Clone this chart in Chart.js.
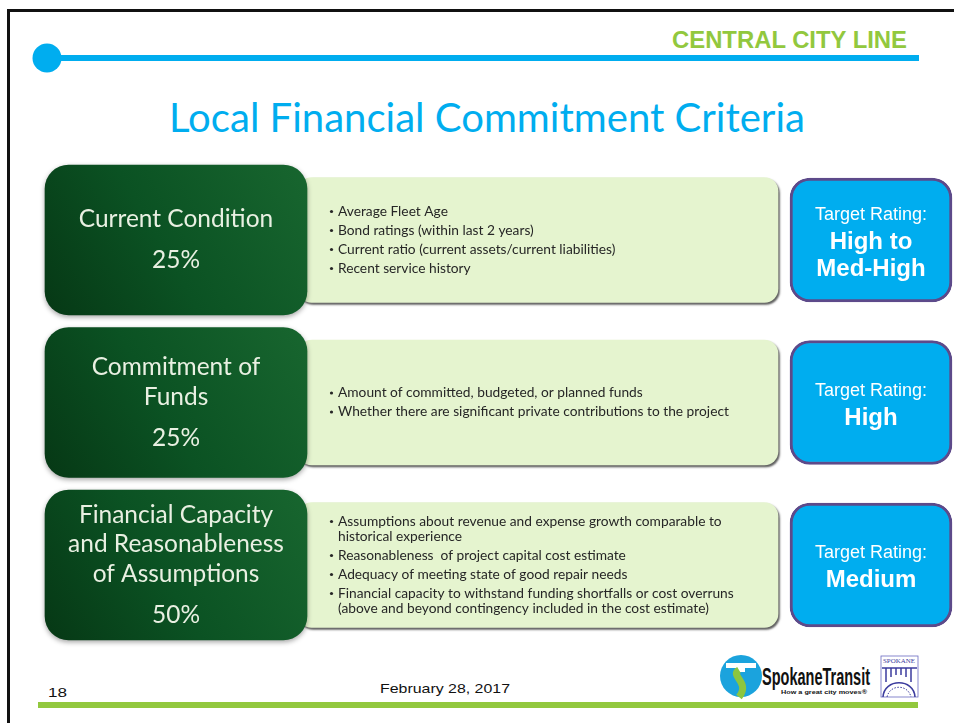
<!DOCTYPE html>
<html>
<head>
<meta charset="utf-8">
<script src="https://cdn.jsdelivr.net/npm/chart.js@4"></script>
<style>
html,body{margin:0;padding:0;background:#fff;}
#slide{position:relative;width:954px;height:723px;overflow:hidden;background:#fff;}
#slide svg,#slide canvas{position:absolute;left:0;top:0;}
</style>
</head>
<body>
<div id="slide">
<svg width="954" height="723" xmlns="http://www.w3.org/2000/svg">
  <path d="M8.5 723 V10.5 H954" fill="none" stroke="#111" stroke-width="3"/>
  <line x1="47" y1="58" x2="919" y2="58" stroke="#00adef" stroke-width="6"/>
  <circle cx="47" cy="58" r="14.5" fill="#00adef"/>
  <text x="672" y="48" font-family="Liberation Sans, Arial, sans-serif" font-weight="bold" font-size="24" fill="#92c83e" textLength="235" lengthAdjust="spacingAndGlyphs">CENTRAL CITY LINE</text>
  <text x="169" y="132" font-family="Lato, sans-serif" font-size="40" fill="#00adef" textLength="636" lengthAdjust="spacingAndGlyphs">Local Financial Commitment Criteria</text>
  <text x="48" y="697" font-family="Liberation Sans, Arial, sans-serif" font-size="13" fill="#111" textLength="19" lengthAdjust="spacingAndGlyphs">18</text>
  <text x="380" y="693" font-family="Liberation Sans, Arial, sans-serif" font-size="13" fill="#111" textLength="130" lengthAdjust="spacingAndGlyphs">February 28, 2017</text>
  <rect x="38" y="702" width="880" height="6" fill="#92c83e"/>
  <!-- Spokane Transit logo -->
  <circle cx="741" cy="676" r="21" fill="#1ba3dd"/>
  <path d="M726 663 H756 V668 H745 V672 H737 V668 H726 Z" fill="#fff"/>
  <path d="M739 670 C729 676, 751 682, 739 697" stroke="#8cc63f" stroke-width="7" fill="none"/>
  <text x="762" y="685" font-family="Liberation Sans Narrow, Liberation Sans, sans-serif" font-weight="bold" font-size="24" fill="#111" textLength="108" lengthAdjust="spacingAndGlyphs">SpokaneTransit</text>
  <text x="781" y="694" font-family="Liberation Sans, sans-serif" font-weight="bold" font-size="6" fill="#111" textLength="86" lengthAdjust="spacingAndGlyphs">How a great city moves®</text>
  <rect x="881" y="656" width="37" height="41" fill="none" stroke="#6a6ac0" stroke-width="0.8"/>
  <text x="899" y="663" text-anchor="middle" font-family="Liberation Serif, serif" font-size="6" fill="#3c3c9e" textLength="32" lengthAdjust="spacingAndGlyphs">SPOKANE</text>
  <path d="M882 668 H917 M883 697 C884 678, 914 678, 915 697 M886 668 V682 M891 668 V677 M896 668 V675 M901 668 V675 M906 668 V677 M911 668 V682" stroke="#3c3c9e" stroke-width="1.5" fill="none"/>
  <path d="M887 697 C890 684, 908 684, 911 697" stroke="#3c3c9e" stroke-width="1" stroke-dasharray="1.5 1.5" fill="none"/>
</svg>
<canvas id="c" width="954" height="723"></canvas>
</div>
<script>
// ---- data ----
const criteria = [
  ['Current Condition'],
  ['Commitment of', 'Funds'],
  ['Financial Capacity', 'and Reasonableness', 'of Assumptions']
];
const weights = [25, 25, 50];
const measures = [
  [['Average Fleet Age'], ['Bond ratings (within last 2 years)'], ['Current ratio (current assets/current liabilities)'], ['Recent service history']],
  [['Amount of committed, budgeted, or planned funds'], ['Whether there are significant private contributions to the project']],
  [['Assumptions about revenue and expense growth comparable to', 'historical experience'],
   ['Reasonableness  of project capital cost estimate'],
   ['Adequacy of meeting state of good repair needs'],
   ['Financial capacity to withstand funding shortfalls or cost overruns', '(above and beyond contingency included in the cost estimate)']]
];
const ratingLabel = 'Target Rating:';
const ratings = [['High to', 'Med-High'], ['High'], ['Medium']];

// ---- layout (slide columns on a 0..954 x scale) ----
const COLUMNS = { criterion: [45, 307], measures: [298, 778], rating: [790, 952] };

function greenFill(ctx) {
  const chart = ctx.chart, xs = chart.scales.x, ys = chart.scales.y;
  if (ctx.type !== 'data' || !xs || !ys || !ctx.raw) return '#0e5627';
  const l = xs.getPixelForValue(ctx.raw[0]), r = xs.getPixelForValue(ctx.raw[1]);
  const cy = ys.getPixelForValue(ctx.dataIndex), h = ctx.dataset.barThickness;
  if (![l, r, cy].every(Number.isFinite)) return '#0e5627';
  const g = chart.ctx.createLinearGradient(l, cy + h / 2, r, cy - h / 2);
  g.addColorStop(0, '#063815');
  g.addColorStop(0.45, '#0b5223');
  g.addColorStop(1, '#18662f');
  return g;
}

const SHADOWS = [
  { color: 'rgba(0,0,0,0.35)', blur: 5, dx: 0, dy: 2 },
  { color: 'rgba(40,40,40,0.75)', blur: 2, dx: 1.5, dy: 2 },
  null
];
const shadowPlugin = {
  id: 'shadows',
  beforeDatasetDraw(chart, args) {
    const c = chart.ctx; c.save();
    const s = SHADOWS[args.index];
    if (s) { c.shadowColor = s.color; c.shadowBlur = s.blur; c.shadowOffsetX = s.dx; c.shadowOffsetY = s.dy; }
  },
  afterDatasetDraw(chart) { chart.ctx.restore(); }
};

function fitSize(c, text, family, weight, target) {
  c.font = `${weight} 100px ${family}`;
  return 100 * target / c.measureText(text).width;
}

const textPlugin = {
  id: 'boxText',
  afterDatasetsDraw(chart) {
    const c = chart.ctx;
    const g = chart.getDatasetMeta(0).data, m = chart.getDatasetMeta(1).data, r = chart.getDatasetMeta(2).data;
    c.save();
    const gfs = fitSize(c, 'and Reasonableness', 'Lato', 'normal', 216);
    const bfs = fitSize(c, 'Whether there are significant private contributions to the project', 'Lato', 'normal', 391);
    c.textBaseline = 'middle';
    criteria.forEach((lines, i) => {
      // criterion box
      const el = g[i];
      const cx = (el.x + el.base) / 2, cy = el.y;
      c.fillStyle = '#e9f0e2'; c.textAlign = 'center';
      c.font = `${gfs}px Lato`;
      const block = (lines.length - 1) * 29.5 + 41;
      const y = cy - block / 2;
      lines.forEach((l, k) => { c.fillText(l, cx, y + k * 29.5); });
      c.fillText(weights[i] + '%', cx, y + (lines.length - 1) * 29.5 + 41);

      // measures box
      const me = m[i];
      const tx = el.x + 31;
      const offs = [];
      let pos = 0;
      measures[i].forEach((b, bi) => {
        if (bi > 0) pos += 19;
        b.forEach((l, li) => { if (li > 0) pos += 15; offs.push({ l, y: pos, bullet: li === 0 }); });
      });
      const start = me.y - pos / 2;
      c.textAlign = 'left'; c.fillStyle = '#262626';
      c.font = `${bfs}px Lato`;
      offs.forEach(o => {
        const yy = start + o.y;
        c.fillText(o.l, tx, yy);
        if (o.bullet) { c.beginPath(); c.arc(tx - 6.5, yy, 1.6, 0, Math.PI * 2); c.fill(); }
      });

      // rating box
      const re = r[i];
      const rx = (re.x + re.base) / 2;
      const rl = [ratingLabel].concat(ratings[i]);
      const ry0 = re.y - (rl.length - 1) * 27 / 2 + 2;
      c.textAlign = 'center'; c.fillStyle = '#ffffff';
      rl.forEach((l, k) => {
        c.font = k === 0 ? '18px "Liberation Sans", Arial, sans-serif' : 'bold 24px "Liberation Sans", Arial, sans-serif';
        c.fillText(l, rx, ry0 + k * 27);
      });
    });
    c.restore();
  }
};

new Chart(document.getElementById('c'), {
  type: 'bar',
  data: {
    labels: criteria,
    datasets: [
      { label: 'Criterion', data: criteria.map(() => COLUMNS.criterion), barThickness: 150, borderRadius: 24,
        backgroundColor: greenFill, borderWidth: 0, borderSkipped: false, grouped: false, order: 0, clip: false },
      { label: 'Measures', data: criteria.map(() => COLUMNS.measures), barThickness: 125, borderRadius: 14,
        backgroundColor: '#e5f4cf', borderWidth: 0, borderSkipped: false, grouped: false, order: 1, clip: false },
      { label: 'Target rating', data: criteria.map(() => COLUMNS.rating), barThickness: 124, borderRadius: 20,
        backgroundColor: '#00adef', borderColor: '#5d4a8a', borderWidth: 3, borderSkipped: false, grouped: false, order: 2, clip: false }
    ]
  },
  options: {
    indexAxis: 'y',
    responsive: false,
    animation: false,
    events: [],
    layout: { padding: { top: 158.75, bottom: 76.75, left: 0, right: 0 } },
    scales: {
      x: { type: 'linear', min: 0, max: 954, display: false },
      y: { type: 'category', display: false, offset: true }
    },
    plugins: { legend: { display: false }, tooltip: { enabled: false } }
  },
  plugins: [shadowPlugin, textPlugin]
});
</script>
</body>
</html>
